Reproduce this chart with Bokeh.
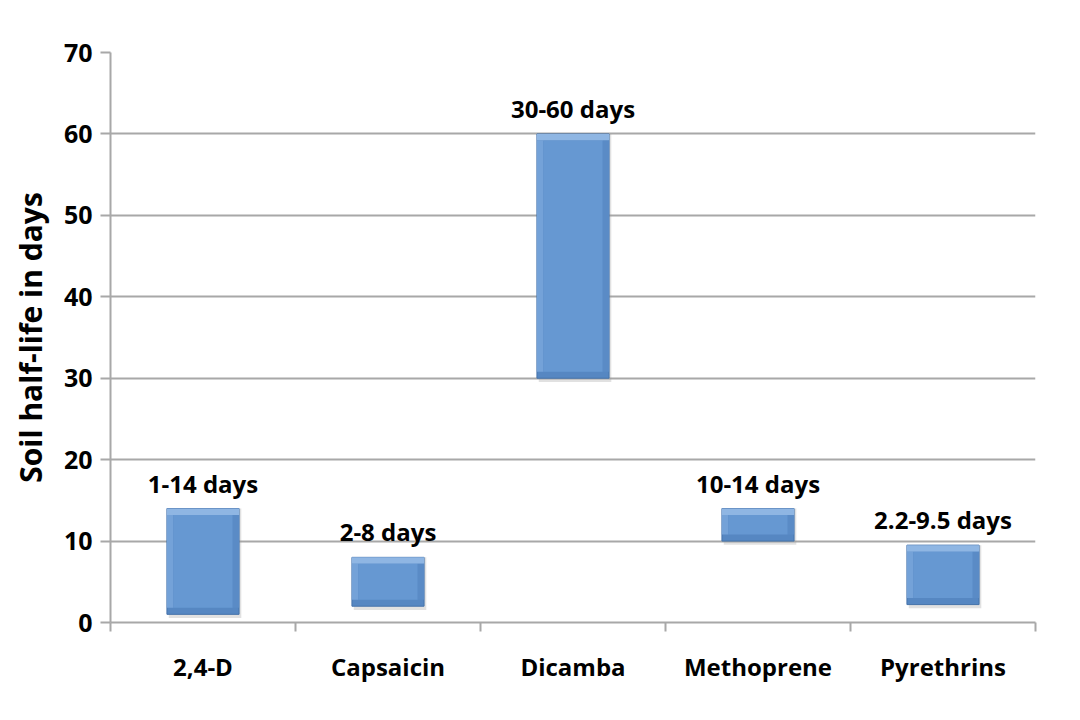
import numpy as np
from bokeh.plotting import figure
from bokeh.models import FixedTicker, Range1d, ColumnDataSource
from bokeh.core.properties import value
from bokeh.embed import file_html
from bokeh.resources import INLINE

# ---- data ----
categories = ["2,4-D", "Capsaicin", "Dicamba", "Methoprene", "Pyrethrins"]
low_days = [1, 2, 30, 10, 2.2]
high_days = [14, 8, 60, 14, 9.5]
range_labels = ["1-14 days", "2-8 days", "30-60 days", "10-14 days", "2.2-9.5 days"]
y_ticks = [0, 10, 20, 30, 40, 50, 60, 70]

FONT = "Open Sans"
GRID = "#a8a8a8"

n = len(categories)
centers = np.arange(n) + 0.5
bw = 0.39      # bar width (fraction of band)
bx = 0.035     # bevel width (x units)
by = 0.8       # bevel height (y units)

low = np.array(low_days, dtype=float)
high = np.array(high_days, dtype=float)

src = ColumnDataSource(dict(
    x=centers, low=low, high=high, lab=range_labels,
    left=centers - bw / 2, right=centers + bw / 2,
    ileft=centers - bw / 2 + bx, iright=centers + bw / 2 - bx,
    ilow=low + by, ihigh=high - by,
    sleft=centers - bw / 2 + 0.01, sright=centers + bw / 2 + 0.012,
    slow=low - 0.45,
))

p = figure(frame_width=925, frame_height=570,
           min_border_left=110, min_border_right=37,
           min_border_top=52, min_border_bottom=80,
           x_range=Range1d(0, n), y_range=Range1d(0, 70),
           output_backend="svg", toolbar_location=None)
p.outline_line_color = None
p.background_fill_color = "white"

# grid
p.xgrid.grid_line_color = None
p.ygrid.ticker = FixedTicker(ticks=y_ticks)
p.ygrid.grid_line_color = GRID
p.ygrid.grid_line_width = 2

# y axis
ya = p.yaxis[0]
ya.ticker = FixedTicker(ticks=y_ticks, minor_ticks=[])
ya.axis_line_color = GRID
ya.axis_line_width = 2
ya.major_tick_line_color = GRID
ya.major_tick_line_width = 2
ya.major_tick_out = 10
ya.major_tick_in = 0
ya.minor_tick_line_color = None
ya.major_label_standoff = 8
ya.major_label_text_font = FONT
ya.major_label_text_font_style = "bold"
ya.major_label_text_font_size = "25px"
ya.major_label_text_color = "black"
ya.axis_label = "Soil half-life in days"
ya.axis_label_text_font = FONT
ya.axis_label_text_font_style = "bold"
ya.axis_label_text_font_size = "30px"
ya.axis_label_text_color = "black"
ya.axis_label_standoff = 10

# x axis: labels at centers, ticks at boundaries
xa = p.xaxis[0]
xa.ticker = FixedTicker(ticks=list(centers), minor_ticks=list(np.arange(n + 1)))
xa.major_label_overrides = {float(c): cat for c, cat in zip(centers, categories)}
xa.axis_line_color = GRID
xa.axis_line_width = 2
xa.major_tick_line_color = None
xa.major_tick_out = 0
xa.major_tick_in = 0
xa.minor_tick_line_color = GRID
xa.minor_tick_line_width = 2
xa.minor_tick_out = 9
xa.minor_tick_in = 0
xa.major_label_standoff = 18
xa.major_label_text_font = FONT
xa.major_label_text_font_style = "bold"
xa.major_label_text_font_size = "24px"
xa.major_label_text_color = "black"

# bars: shadow, edge, top highlight, side bevels, face
p.quad(left="sleft", right="sright", bottom="slow", top="high", source=src,
       fill_color="#9a9a9a", fill_alpha=0.3, line_color=None)
p.quad(left="left", right="right", bottom="low", top="high", source=src,
       fill_color="#5687c2", line_color="#4673aa", line_width=1)
p.quad(left="left", right="right", bottom="ihigh", top="high", source=src,
       fill_color="#8fb6e3", line_color=None)
p.quad(left="left", right="ileft", bottom="ilow", top="ihigh", source=src,
       fill_color="#74a2d8", line_color=None)
p.quad(left="iright", right="right", bottom="ilow", top="ihigh", source=src,
       fill_color="#5a8bc6", line_color=None)
p.quad(left="ileft", right="iright", bottom="ilow", top="ihigh", source=src,
       fill_color="#6698d2", line_color=None)

# range labels above bars
p.text(x="x", y="high", text="lab", source=src,
       text_font=value(FONT), text_font_style="bold", text_font_size="24px",
       text_color="black", text_align="center", text_baseline="bottom",
       y_offset=-9)

open("out.html", "w").write(file_html(p, INLINE))
